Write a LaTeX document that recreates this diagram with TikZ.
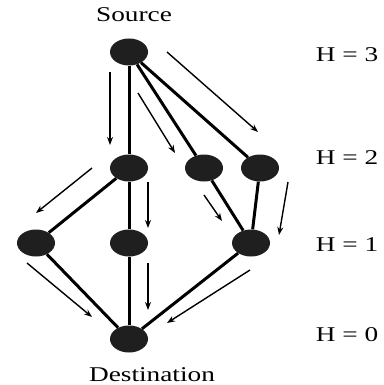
\documentclass[tikz,border=0pt]{standalone}
\usepackage{fontspec}
\setmainfont{Liberation Serif}
\usetikzlibrary{shapes.geometric,arrows.meta}
\begin{document}
\begin{tikzpicture}[x=1pt,y=-1pt,
    hop/.style={ellipse,fill=black!88,minimum width=38pt,minimum height=27pt,inner sep=0pt},
    link/.style={line width=3pt},
    flow/.style={line width=1.4pt,-{Stealth[length=8pt,width=6pt]}},
    lbl/.style={font=\fontsize{21}{24}\selectfont,xscale=1.3,inner sep=0pt}]
  \useasboundingbox (0,0) rectangle (383,385);
  % nodes by hop count
  \node[hop] (s) at (129,52) {};
  \node[hop] (a) at (129,168) {};
  \node[hop] (b) at (204,168) {};
  \node[hop] (c) at (260,168) {};
  \node[hop] (d) at (36,243) {};
  \node[hop] (e) at (129,243) {};
  \node[hop] (f) at (251,243) {};
  \node[hop] (t) at (129,339) {};
  \node[lbl] (src) at (134,15) {Source};
  \node[lbl] (dst) at (152,375) {Destination};
  \node[lbl] (h3) at (347,55) {H = 3};
  \node[lbl] (h2) at (347,158) {H = 2};
  \node[lbl] (h1) at (347,245) {H = 1};
  \node[lbl] (h0) at (347,335) {H = 0};
  % links
  \draw[link] (s) -- (a);
  \draw[link] (s) -- (b);
  \draw[link] (s) -- (c);
  \draw[link] (a) -- (d);
  \draw[link] (a) -- (e);
  \draw[link] (b) -- (f);
  \draw[link] (c) -- (f);
  \draw[link] (d) -- (t);
  \draw[link] (e) -- (t);
  \draw[link] (f) -- (t);
  % flow arrows
  \coordinate (p1) at (110,72);  \coordinate (q1) at (110,145);
  \coordinate (p2) at (138,93);  \coordinate (q2) at (175,153);
  \coordinate (p3) at (167,52);  \coordinate (q3) at (258,132);
  \coordinate (p4) at (92,168);  \coordinate (q4) at (36,213);
  \coordinate (p5) at (148,182); \coordinate (q5) at (148,228);
  \coordinate (p6) at (204,195); \coordinate (q6) at (222,221);
  \coordinate (p7) at (288,182); \coordinate (q7) at (279,235);
  \coordinate (p8) at (27,263);  \coordinate (q8) at (92,317);
  \coordinate (p9) at (148,263); \coordinate (q9) at (148,310);
  \coordinate (p10) at (250,270); \coordinate (q10) at (167,323);
  \foreach \i in {1,...,10}
    \draw[flow] (p\i) -- (q\i);
\end{tikzpicture}
\end{document}
